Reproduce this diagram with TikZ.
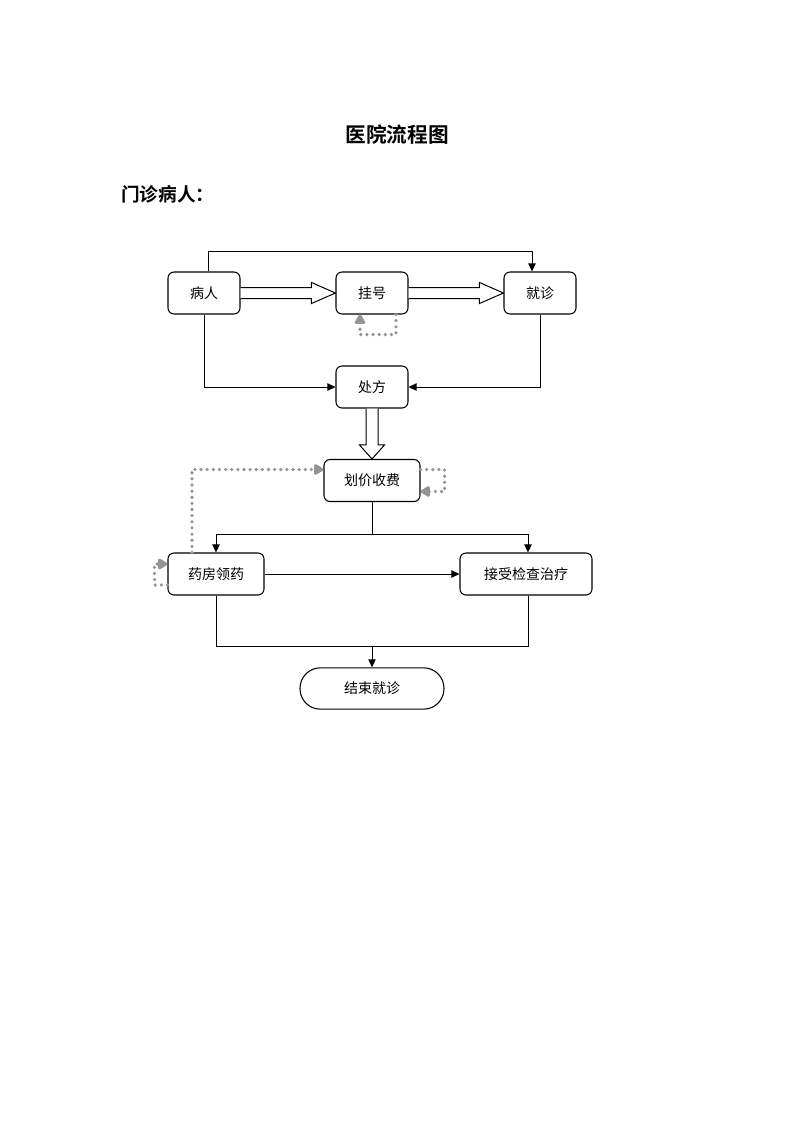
\documentclass[tikz,border=0pt]{standalone}
\usepackage{fontspec}
\setmainfont{Noto Sans CJK SC}
\newfontfamily\cjk{Noto Sans CJK SC}
\newfontfamily\cjkb{Noto Sans CJK SC Bold}
\usetikzlibrary{arrows.meta,calc}
\begin{document}
\begin{tikzpicture}[x=0.75pt,y=-0.75pt,
  box/.style={draw=black,line width=0.8pt,rounded corners=4.5pt,minimum width=54pt,minimum height=31.5pt,inner sep=0pt,font=\cjk\fontsize{10.5}{12}\selectfont},
  endbox/.style={draw=black,line width=0.8pt,rounded corners=15.3pt,minimum width=108pt,minimum height=31pt,inner sep=0pt,font=\cjk\fontsize{10.5}{12}\selectfont},
  conn/.style={draw=black,line width=0.75pt,-{Triangle[length=6pt,width=5.5pt]}},
  plain/.style={draw=black,line width=0.75pt},
  hollow/.style={draw=black,line width=0.75pt,fill=white,line join=miter},
  dots/.style={draw=black!42,line width=2.7pt,line cap=round,dash pattern=on 0pt off 4.6pt,-{Triangle[length=8pt,width=9pt,round]}},
]
\useasboundingbox (0,0) rectangle (793,1122);
% titles
\node[font=\cjkb\fontsize{15.5}{18}\selectfont] (title) at (397,135) {医院流程图};
\node[font=\cjkb\fontsize{14}{16}\selectfont,anchor=west,inner sep=0pt] (sub) at (121,194) {门诊病人：};
% nodes
\node[box] (p) at (204,293) {病人};
\node[box] (g) at (372,293) {挂号};
\node[box] (j) at (540,293) {就诊};
\node[box] (c) at (372,387) {处方};
\node[box,minimum width=72pt] (h) at (372,480.5) {划价收费};
\node[box,minimum width=72pt] (y) at (216,574) {药房领药};
\node[box,minimum width=99pt] (t) at (526,574) {接受检查治疗};
\node[endbox] (e) at (372,688.5) {结束就诊};
% top connector
\draw[conn] ($(p.north)+(4,0)$) -- ++(0,-20) -| ($(j.north)+(-8,0)$);
% hollow arrows
\draw[hollow] ($(p.east)+(0,-5.5)$) -- ($(g.west)+(-24,-5.5)$) -- ($(g.west)+(-24,-10.5)$) -- (g.west) -- ($(g.west)+(-24,10.5)$) -- ($(g.west)+(-24,5.5)$) -- ($(p.east)+(0,5.5)$);
\draw[hollow] ($(g.east)+(0,-5.5)$) -- ($(j.west)+(-24,-5.5)$) -- ($(j.west)+(-24,-10.5)$) -- (j.west) -- ($(j.west)+(-24,10.5)$) -- ($(j.west)+(-24,5.5)$) -- ($(g.east)+(0,5.5)$);
\draw[hollow] ($(c.south)+(-6,0)$) -- ($(h.north)+(-6,-14)$) -- ($(h.north)+(-12.5,-14)$) -- (h.north) -- ($(h.north)+(12.5,-14)$) -- ($(h.north)+(6,-14)$) -- ($(c.south)+(6,0)$);
% to prescription
\draw[conn] (p.south) |- (c.west);
\draw[conn] (j.south) |- (c.east);
% split after billing
\coordinate (split) at ($(h.south)+(0,32)$);
\draw[plain] (h.south) -- (split);
\draw[conn] (split) -| (y.north);
\draw[conn] (split) -| ($(t.north)+(2,0)$);
\draw[conn] (y.east) -- (t.west);
% merge to end
\coordinate (merge) at ($(e.north)+(0,-21)$);
\draw[plain] (y.south) |- (merge);
\draw[plain] ($(t.south)+(2,0)$) |- (merge);
\draw[conn] (merge) -- (e.north);
% dotted loops
\draw[dots] ($(g.south)+(24,0)$) -- ++(0,20) -| ($(g.south)+(-12,0)$);
\draw[dots] ($(h.east)+(0,-11)$) -- ++(24,0) -- ++(0,22) -- ($(h.east)+(0,11)$);
\draw[dots] ($(y.north)+(-24,0)$) |- ($(h.west)+(0,-11)$);
\draw[dots] ($(y.west)+(0,11)$) -- ++(-13,0) -- ++(0,-21) -- ($(y.west)+(0,-10)$);
\end{tikzpicture}
\end{document}
